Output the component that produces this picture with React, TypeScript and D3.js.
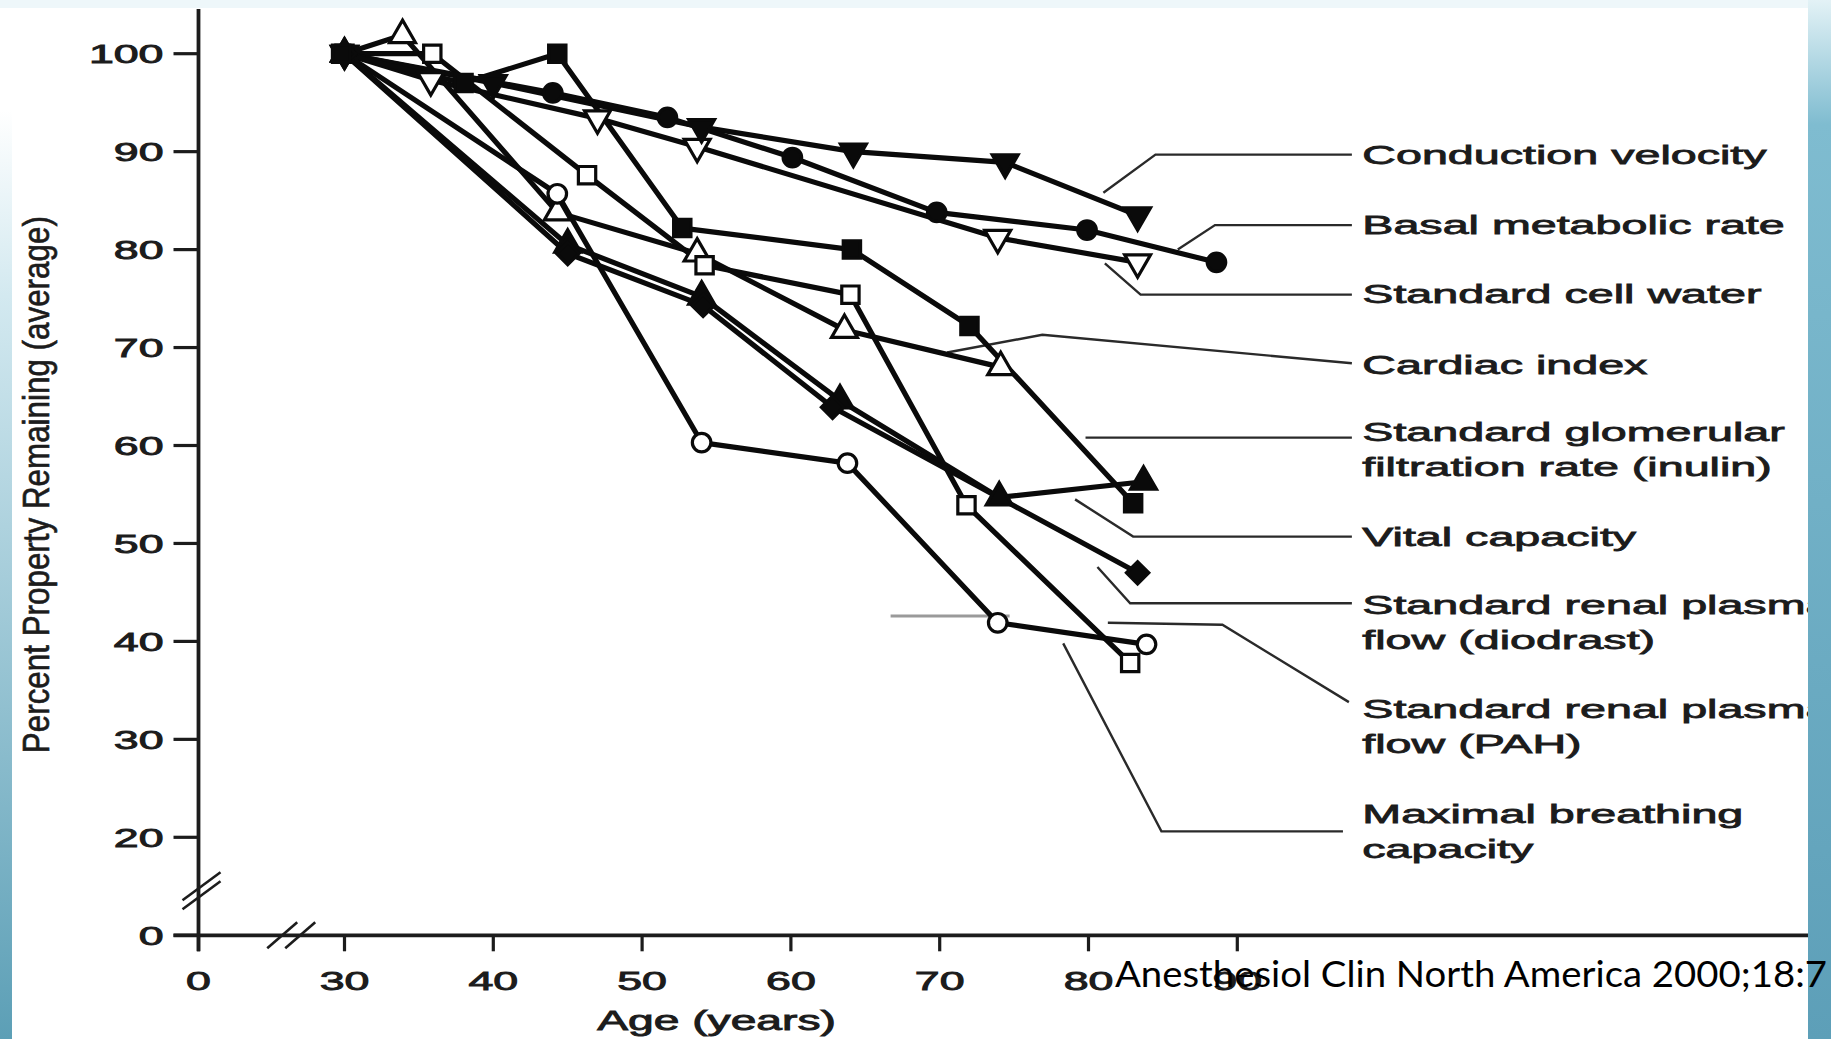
import React from "react";
import * as d3 from "d3";

// age (years) vs percent of function remaining
const conductionVelocity = [[30, 100], [40, 97], [54, 92.5], [64.2, 90], [74.4, 88.9], [83.3, 83.5]];
const basalMetabolicRate = [[30, 100], [44, 96], [51.7, 93.5], [60.1, 89.4], [69.8, 83.8], [79.9, 82], [88.6, 78.7]];
const standardCellWater = [[30, 100], [35.8, 97.3], [47, 93.4], [53.7, 90.5], [73.9, 81.2], [83.3, 78.7]];
const cardiacIndex = [[30, 100], [33.9, 101.9], [44.3, 83.8], [53.7, 79.6], [63.6, 71.8], [74.1, 68]];
const glomerularFiltration = [[29.3, 100], [38, 97], [44.3, 100], [52.7, 82.2], [64.1, 80], [72, 72.2], [83, 54.1]];
const vitalCapacity = [[30, 100], [45, 80.5], [54, 75.2], [63.3, 64.6], [74, 54.7], [83.7, 56.3]];
const renalPlasmaDiodrast = [[30, 100], [45, 79.6], [54.1, 74.3], [62.8, 63.9], [83.3, 47]];
const renalPlasmaPAH = [[30, 100], [35.9, 100], [46.3, 87.6], [54.2, 78.4], [64, 75.4], [71.8, 53.9], [82.8, 37.8]];
const maxBreathingCapacity = [[30, 100], [44.3, 85.7], [54, 60.3], [63.8, 58.2], [73.9, 41.9], [83.9, 39.7]];

const ageTicks = [0, 30, 40, 50, 60, 70, 80, 90];
const percentTicks = [0, 20, 30, 40, 50, 60, 70, 80, 90, 100];

const labels = [
  ["Conduction velocity"],
  ["Basal metabolic rate"],
  ["Standard cell water"],
  ["Cardiac index"],
  ["Standard glomerular", "filtration rate (inulin)"],
  ["Vital capacity"],
  ["Standard renal plasma", "flow (diodrast)"],
  ["Standard renal plasma", "flow (PAH)"],
  ["Maximal breathing", "capacity"],
];

const W = 1831;
const H = 1039;

// broken axes: 0 sits one step below the first real tick
const x = d3.scaleLinear().domain([0, 30, 90]).range([198.5, 344.5, 1237.3]);
const y = d3.scaleLinear().domain([0, 20, 100]).range([935.3, 837.3, 53.7]);

// hollow first so the filled markers sit on top in the age-30 cluster
const series = [
  { data: standardCellWater, marker: "down", filled: false },
  { data: cardiacIndex, marker: "up", filled: false },
  { data: renalPlasmaPAH, marker: "square", filled: false },
  { data: maxBreathingCapacity, marker: "circle", filled: false },
  { data: conductionVelocity, marker: "down", filled: true },
  { data: basalMetabolicRate, marker: "circle", filled: true },
  { data: vitalCapacity, marker: "up", filled: true },
  { data: renalPlasmaDiodrast, marker: "diamond", filled: true },
  { data: glomerularFiltration, marker: "square", filled: true },
];

// label row (in percent units) and leader polylines (age, percent)
const labelRows = [89.7, 82.6, 75.5, 68.3, 61.4, 50.7, 43.8, 33.1, 22.4];
const leaders = [
  [[97.7, 89.7], [84.5, 89.7], [81.0, 85.8]],
  [[97.7, 82.5], [88.5, 82.5], [86.0, 80.0]],
  [[97.7, 75.4], [83.5, 75.4], [81.1, 78.6]],
  [[97.7, 68.4], [76.9, 71.3], [70.5, 69.5]],
  [[97.7, 60.8], [79.8, 60.8]],
  [[97.7, 50.7], [83.0, 50.7], [79.1, 54.5]],
  [[97.7, 43.9], [82.8, 43.9], [80.6, 47.6]],
  [[97.5, 33.8], [89.0, 41.7], [81.3, 41.9]],
  [[97.1, 20.6], [84.9, 20.6], [78.3, 39.8]],
];

const line = d3
  .line<number[]>()
  .x((d) => x(d[0]))
  .y((d) => y(d[1]));

const symbolPath = (kind: string) => {
  if (kind === "circle") return d3.symbol().type(d3.symbolCircle).size(270)();
  if (kind === "square") return d3.symbol().type(d3.symbolSquare).size(300)();
  if (kind === "diamond") return d3.symbol().type(d3.symbolSquare).size(250)();
  return d3.symbol().type(d3.symbolTriangle).size(290)();
};
const symbolRotate = (kind: string) => (kind === "down" ? 180 : kind === "diamond" ? 45 : 0);

const font = "'Liberation Sans', Arial, sans-serif";
const ink = "#1c1c1c";

const App = () => {
  return (
    <div style={{ position: "fixed", left: 0, top: 0 }}>
      <svg width={W} height={H} style={{ display: "block", background: "#ffffff" }}>
        <defs>
          <linearGradient id="leftBar" x1="0" y1="0" x2="0" y2="1">
            <stop offset="0" stopColor="#ffffff" />
            <stop offset="0.2" stopColor="#d3e9f0" />
            <stop offset="1" stopColor="#5c9fb6" />
          </linearGradient>
          <linearGradient id="rightBar" x1="0" y1="0" x2="0" y2="1">
            <stop offset="0" stopColor="#e3f2f6" />
            <stop offset="0.12" stopColor="#7fbcd0" />
            <stop offset="1" stopColor="#5d9fb8" />
          </linearGradient>
        </defs>

        {/* axes */}
        <line x1={x(0)} x2={x(0)} y1={9} y2={y(0) + 16} stroke={ink} strokeWidth={3.8} />
        <line x1={x(0) - 25} x2={W} y1={y(0)} y2={y(0)} stroke={ink} strokeWidth={3.8} />
        {percentTicks.map((t) => (
          <g key={"yt" + t}>
            <line x1={x(0) - 25} x2={x(0)} y1={y(t)} y2={y(t)} stroke={ink} strokeWidth={3.2} />
            <g transform={`translate(${x(0) - 35},${y(t) + 9.5}) scale(1.72,1)`}>
              <text textAnchor="end" fontFamily={font} fontSize={26} fill={ink} stroke={ink} strokeWidth={0.9}>
                {t}
              </text>
            </g>
          </g>
        ))}
        {ageTicks.map((t) => (
          <g key={"xt" + t}>
            <line x1={x(t)} x2={x(t)} y1={y(0)} y2={y(0) + 16} stroke={ink} strokeWidth={3.2} />
            <g transform={`translate(${x(t)},${990}) scale(1.72,1)`}>
              <text textAnchor="middle" fontFamily={font} fontSize={26} fill={ink} stroke={ink} strokeWidth={0.9}>
                {t}
              </text>
            </g>
          </g>
        ))}
        {/* axis breaks */}
        {[0, 9].map((o) => (
          <line key={"yb" + o} x1={x(0) - 16} x2={x(0) + 22} y1={y(10) + 14 + o} y2={y(10) - 14 + o} stroke={ink} strokeWidth={2.6} />
        ))}
        {[0, 18].map((o) => (
          <line key={"xb" + o} x1={x(17) + o - 14} x2={x(17) + o + 16} y1={y(0) + 13} y2={y(0) - 13} stroke={ink} strokeWidth={2.6} />
        ))}

        {/* axis titles */}
        <g transform={`translate(${x(55)},${1030}) scale(1.65,1)`}>
          <text textAnchor="middle" fontFamily={font} fontSize={28} fill={ink} stroke={ink} strokeWidth={0.9}>
            Age (years)
          </text>
        </g>
        <g transform={`translate(49,${y(56)}) rotate(-90) scale(1,1.3)`}>
          <text textAnchor="middle" fontFamily={font} fontSize={28} fill={ink} stroke={ink} strokeWidth={0.5} textLength={537} lengthAdjust="spacingAndGlyphs">
            Percent Property Remaining (average)
          </text>
        </g>

        {/* leaders */}
        {leaders.map((pts, i) => (
          <path key={"ld" + i} d={line(pts) || ""} fill="none" stroke="#2a2a2a" strokeWidth={2.4} />
        ))}
        <line x1={x(66.7)} x2={x(74.7)} y1={y(42.6)} y2={y(42.6)} stroke="#9a9a9a" strokeWidth={3} />

        {/* series lines */}
        {series.map((s, i) => (
          <path key={"ln" + i} d={line(s.data) || ""} fill="none" stroke="#0a0a0a" strokeWidth={5.2} strokeLinejoin="round" />
        ))}
        {/* markers */}
        {series.map((s, i) =>
          s.data.map((d, j) => (
            <path
              key={"mk" + i + "-" + j}
              d={symbolPath(s.marker) || ""}
              transform={`translate(${x(d[0])},${y(d[1])}) rotate(${symbolRotate(s.marker)})`}
              fill={s.filled ? "#0a0a0a" : "#ffffff"}
              stroke="#0a0a0a"
              strokeWidth={3.2}
            />
          ))
        )}

        {/* labels */}
        {labels.map((lines, i) => (
          <g key={"lb" + i} transform={`translate(${x(98.4)},${y(labelRows[i]) + 9.5}) scale(1.76,1)`}>
            {lines.map((t, k) => (
              <text key={k} y={k * 35} fontFamily={font} fontSize={26.5} fill={ink} stroke={ink} strokeWidth={0.8}>
                {t}
              </text>
            ))}
          </g>
        ))}

        {/* slide edges */}
        <rect x={0} y={0} width={W} height={8} fill="#eef7fa" />
        <rect x={0} y={110} width={12} height={H - 110} fill="url(#leftBar)" />
        <rect x={1808} y={0} width={W - 1808} height={H} fill="url(#rightBar)" />

        {/* citation */}
        <text x={1115} y={987} fontFamily="Lato, 'Open Sans', sans-serif" fontSize={36} fill="#000" textLength={712} lengthAdjust="spacingAndGlyphs">
          Anesthesiol Clin North America 2000;18:7
        </text>
      </svg>
    </div>
  );
};

export default App;
